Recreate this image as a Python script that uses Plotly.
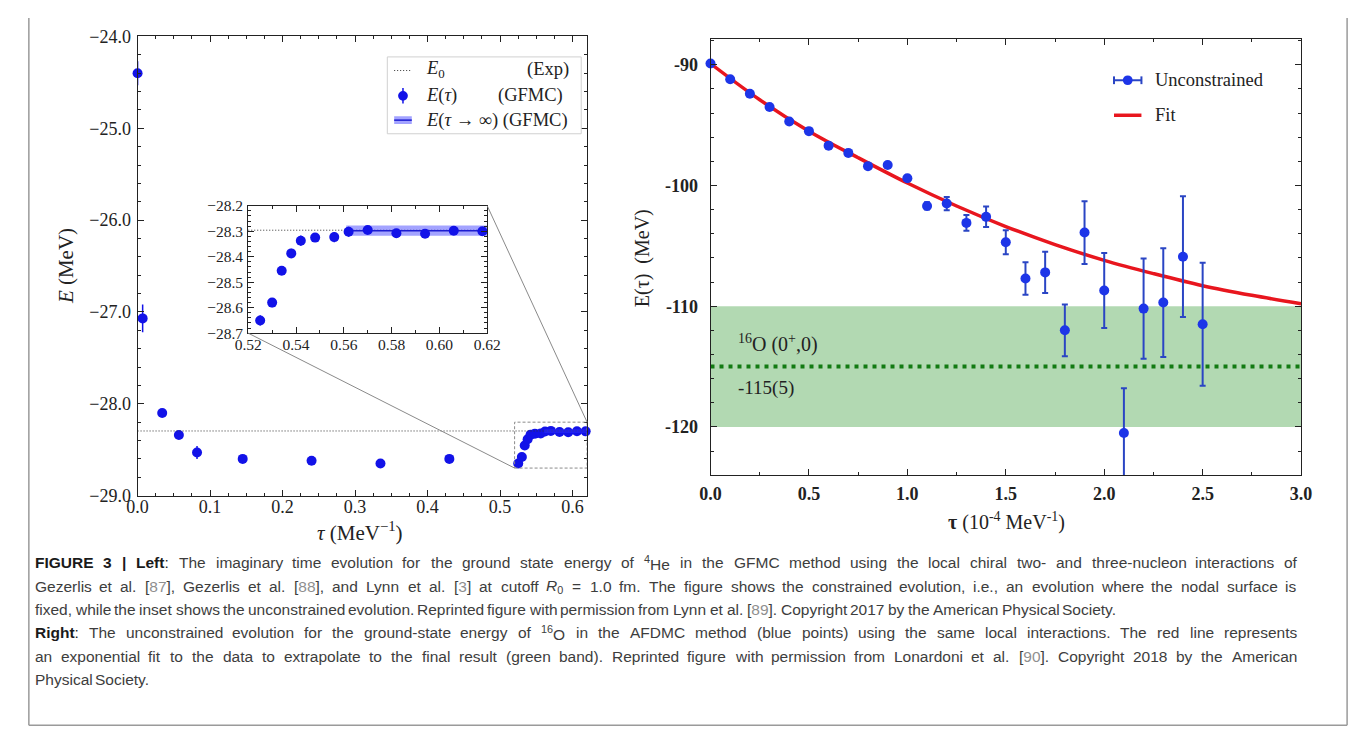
import re
import plotly.graph_objects as go

W, H = 1358, 734

# ---------------- Left panel data: 4He, GFMC ----------------
tau_con = [0.0, 0.007, 0.034, 0.057, 0.082, 0.145, 0.24, 0.335, 0.43, 0.525]
E_con = [-24.40, -27.07, -28.10, -28.34, -28.53, -28.60, -28.62, -28.65, -28.60, -28.65]
err_con = [0.13, 0.15, 0.04, 0.03, 0.07, 0.03, 0.03, 0.03, 0.03, 0.02]

tau_unc = [0.530, 0.534, 0.538, 0.542, 0.548, 0.556, 0.562, 0.570, 0.582, 0.594, 0.606, 0.618]
E_unc = [-28.580, -28.455, -28.387, -28.337, -28.325, -28.323, -28.302, -28.295, -28.308, -28.310, -28.298, -28.300]
err_unc = [0.018, 0.014, 0.018, 0.020, 0.012, 0.020, 0.020, 0.012, 0.012, 0.015, 0.012, 0.012]

E0_exp = -28.296
E_inf = -28.298
E_inf_err = 0.02
tau_inf = [0.561, 0.62]

main_xrange = [0.0, 0.62]
main_yrange = [-29.0, -24.0]
inset_xrange = [0.52, 0.62]
inset_yrange = [-28.7, -28.2]

main_xticks = [0.0, 0.1, 0.2, 0.3, 0.4, 0.5, 0.6]
main_xticklabels = ["0.0", "0.1", "0.2", "0.3", "0.4", "0.5", "0.6"]
main_yticks = [-29, -28, -27, -26, -25, -24]
main_yticklabels = ["\u221229.0", "\u221228.0", "\u221227.0", "\u221226.0", "\u221225.0", "\u221224.0"]
inset_xticks = [0.52, 0.54, 0.56, 0.58, 0.60, 0.62]
inset_xticklabels = ["0.52", "0.54", "0.56", "0.58", "0.60", "0.62"]
inset_yticks = [-28.7, -28.6, -28.5, -28.4, -28.3, -28.2]
inset_yticklabels = ["\u221228.7", "\u221228.6", "\u221228.5", "\u221228.4", "\u221228.3", "\u221228.2"]

# ---------------- Right panel data: 16O, AFDMC ----------------
tau_afdmc = [0.0, 0.1, 0.2, 0.3, 0.4, 0.5, 0.6, 0.7, 0.8, 0.9, 1.0, 1.1, 1.2,
             1.3, 1.4, 1.5, 1.6, 1.7, 1.8, 1.9, 2.0, 2.1, 2.2, 2.3, 2.4, 2.5]
E_afdmc = [-89.9, -91.2, -92.4, -93.5, -94.7, -95.5, -96.7, -97.3, -98.4, -98.3, -99.4,
           -101.7, -101.5, -103.1, -102.6, -104.7, -107.7, -107.2, -112.0, -103.9,
           -108.7, -120.5, -110.2, -109.7, -105.9, -111.5]
err_afdmc = [0.1, 0.1, 0.1, 0.1, 0.1, 0.1, 0.1, 0.1, 0.15, 0.15, 0.2, 0.3, 0.55,
             0.65, 0.85, 1.0, 1.35, 1.7, 2.15, 2.6, 3.1, 3.7, 4.15, 4.5, 5.0, 5.1]

tau_fit = [0.0, 0.25, 0.5, 0.75, 1.0, 1.25, 1.5, 1.75, 2.0, 2.25, 2.5, 2.75, 3.0]
E_fit = [-89.9, -92.9, -95.5, -97.7, -99.8, -101.7, -103.4, -104.9, -106.2, -107.3,
         -108.3, -109.1, -109.8]

E_final = -115.0
E_band = [-120.0, -110.0]

right_xrange = [0.0, 3.0]
right_yrange = [-124.0, -87.9]
right_xticks = [0.0, 0.5, 1.0, 1.5, 2.0, 2.5, 3.0]
right_xticklabels = ["0.0", "0.5", "1.0", "1.5", "2.0", "2.5", "3.0"]
right_yticks = [-120, -110, -100, -90]
right_yticklabels = ["-120", "-110", "-100", "-90"]

# ---------------- geometry (pixels) ----------------
def X(px):
    return px / W


def Y(py):
    return 1 - py / H


LB = dict(x0=118, x1=577, y0=19, y1=491)     # left main axes
IB = dict(x0=231, x1=475, y0=193, y1=324)    # inset axes
RB = dict(x0=703, x1=1306, y0=22, y1=470)    # right axes


def dom_x(b):
    return [X(b["x0"]), X(b["x1"])]


def dom_y(b):
    return [Y(b["y1"]), Y(b["y0"])]


def frange(a, b, step):
    out, v = [], a
    while v <= b + 1e-9:
        out.append(round(v, 6))
        v += step
    return out


INK = "#222222"
SERIF = "Liberation Serif"


def axis(domain, rng, tickvals, ticktext, minor_vals, size, bold=False, anchor=None, standoff=0):
    d = dict(domain=domain, range=rng, showline=True, linecolor=INK, linewidth=1,
             mirror="allticks", ticks="inside", ticklen=6, tickwidth=1, tickcolor=INK,
             showgrid=False, zeroline=False, tickmode="array", tickvals=tickvals,
             ticktext=ticktext, ticklabelstandoff=standoff,
             tickfont=dict(family=SERIF, size=size, color=INK, weight="bold" if bold else "normal"),
             minor=dict(tickmode="array", tickvals=minor_vals, ticks="inside", ticklen=3,
                        tickwidth=1, tickcolor=INK, showgrid=False),
             fixedrange=True)
    if anchor:
        d["anchor"] = anchor
    return d


fig = go.Figure()

BLUE_L = "#1212e8"
BAND_FILL = "rgba(50,50,255,0.45)"
BAND_LINE = "#1c1cd0"

# ---- left main ----
for xs, ys, es in [(tau_con, E_con, err_con), (tau_unc, E_unc, err_unc)]:
    fig.add_trace(go.Scatter(x=xs, y=ys, mode="markers", xaxis="x", yaxis="y",
                             marker=dict(size=10, color=BLUE_L),
                             error_y=dict(type="data", array=es, color=BLUE_L, thickness=1.5, width=0),
                             cliponaxis=False, showlegend=False, hoverinfo="skip"))
fig.add_trace(go.Scatter(x=main_xrange, y=[E0_exp, E0_exp], mode="lines", xaxis="x", yaxis="y",
                         line=dict(color="#333333", width=1, dash="1px,2px"),
                         showlegend=False, hoverinfo="skip"))
fig.add_trace(go.Scatter(x=[tau_inf[0], tau_inf[1], tau_inf[1], tau_inf[0], tau_inf[0]],
                         y=[E_inf + E_inf_err, E_inf + E_inf_err, E_inf - E_inf_err,
                            E_inf - E_inf_err, E_inf + E_inf_err],
                         mode="lines", fill="toself", fillcolor=BAND_FILL, line=dict(width=0),
                         xaxis="x", yaxis="y", showlegend=False, hoverinfo="skip"))

# ---- inset ----
fig.add_trace(go.Scatter(x=inset_xrange, y=[E0_exp, E0_exp], mode="lines", xaxis="x2", yaxis="y2",
                         line=dict(color="#333333", width=1, dash="1px,2px"),
                         showlegend=False, hoverinfo="skip"))
fig.add_trace(go.Scatter(x=[tau_inf[0], tau_inf[1], tau_inf[1], tau_inf[0], tau_inf[0]],
                         y=[E_inf + E_inf_err, E_inf + E_inf_err, E_inf - E_inf_err,
                            E_inf - E_inf_err, E_inf + E_inf_err],
                         mode="lines", fill="toself", fillcolor=BAND_FILL, line=dict(width=0),
                         xaxis="x2", yaxis="y2", showlegend=False, hoverinfo="skip"))
fig.add_trace(go.Scatter(x=tau_inf, y=[E_inf, E_inf], mode="lines", xaxis="x2", yaxis="y2",
                         line=dict(color=BAND_LINE, width=1.5), showlegend=False, hoverinfo="skip"))
for xs, ys, es in [(tau_con, E_con, err_con), (tau_unc, E_unc, err_unc)]:
    fig.add_trace(go.Scatter(x=xs, y=ys, mode="markers", xaxis="x2", yaxis="y2",
                             marker=dict(size=10, color=BLUE_L),
                             error_y=dict(type="data", array=es, color=BLUE_L, thickness=1.5, width=0),
                             showlegend=False, hoverinfo="skip"))

# ---- right ----
GREEN_D = "#127a12"
RED = "#e8161e"
BLUE_R = "#1d35e8"
BLUE_RE = "#2a45c4"
fig.add_trace(go.Scatter(x=right_xrange, y=[E_final, E_final], mode="lines", xaxis="x3", yaxis="y3",
                         line=dict(color=GREEN_D, width=4, dash="4px,5px"),
                         showlegend=False, hoverinfo="skip"))
fig.add_trace(go.Scatter(x=tau_fit, y=E_fit, mode="lines", xaxis="x3", yaxis="y3",
                         line=dict(color=RED, width=3.5, shape="spline"),
                         showlegend=False, hoverinfo="skip"))
fig.add_trace(go.Scatter(x=tau_afdmc, y=E_afdmc, mode="markers", xaxis="x3", yaxis="y3",
                         marker=dict(size=10, color=BLUE_R),
                         error_y=dict(type="data", array=err_afdmc, color=BLUE_RE, thickness=2, width=3),
                         cliponaxis=False, showlegend=False, hoverinfo="skip"))

shapes = []
shapes.append(dict(type="rect", xref="x3 domain", yref="y3", x0=0, x1=1, y0=E_band[0], y1=E_band[1],
                   fillcolor="rgba(0,128,0,0.3)", line=dict(width=0), layer="below"))
shapes.append(dict(type="rect", xref="x", yref="y", x0=inset_xrange[0], x1=inset_xrange[1],
                   y0=inset_yrange[0], y1=inset_yrange[1], line=dict(color="#8a8a8a", width=1, dash="3px,2px")))


def data_to_px(xv, yv, b, xr, yr):
    px = b["x0"] + (xv - xr[0]) / (xr[1] - xr[0]) * (b["x1"] - b["x0"])
    py = b["y1"] - (yv - yr[0]) / (yr[1] - yr[0]) * (b["y1"] - b["y0"])
    return px, py


for cx, cy in [(inset_xrange[0], inset_yrange[0]), (inset_xrange[1], inset_yrange[1])]:
    ax_, ay_ = data_to_px(cx, cy, IB, inset_xrange, inset_yrange)
    bx_, by_ = data_to_px(cx, cy, LB, main_xrange, main_yrange)
    shapes.append(dict(type="line", xref="paper", yref="paper", x0=X(ax_), y0=Y(ay_), x1=X(bx_), y1=Y(by_),
                       line=dict(color="#8a8a8a", width=1)))

# outer border
BORDER = "#9a9a9a"
shapes.append(dict(type="line", xref="paper", yref="paper", x0=X(7), x1=X(7), y0=Y(0), y1=Y(727),
                   line=dict(color=BORDER, width=1.5)))
shapes.append(dict(type="line", xref="paper", yref="paper", x0=X(1353), x1=X(1353), y0=Y(0), y1=Y(727),
                   line=dict(color=BORDER, width=1.5)))
shapes.append(dict(type="line", xref="paper", yref="paper", x0=X(7), x1=X(1353), y0=Y(727), y1=Y(727),
                   line=dict(color=BORDER, width=1.5)))

# ---- left legend (drawn) ----
shapes.append(dict(type="rect", xref="paper", yref="paper", x0=X(373), x1=X(571), y0=Y(119), y1=Y(40),
                   line=dict(color="#d0d0d0", width=1), fillcolor="rgba(255,255,255,0.85)"))
shapes.append(dict(type="line", xref="paper", yref="paper", x0=X(380), x1=X(398), y0=Y(54), y1=Y(54),
                   line=dict(color="#333333", width=1, dash="1px,2px")))
shapes.append(dict(type="line", xref="paper", yref="paper", x0=X(389), x1=X(389), y0=Y(72), y1=Y(88),
                   line=dict(color=BLUE_L, width=1.5)))
shapes.append(dict(type="circle", xref="paper", yref="paper", x0=X(384), x1=X(394), y0=Y(85), y1=Y(75),
                   fillcolor=BLUE_L, line=dict(width=0)))
shapes.append(dict(type="rect", xref="paper", yref="paper", x0=X(380), x1=X(398), y0=Y(109), y1=Y(101),
                   fillcolor=BAND_FILL, line=dict(width=0)))
shapes.append(dict(type="line", xref="paper", yref="paper", x0=X(380), x1=X(398), y0=Y(105), y1=Y(105),
                   line=dict(color=BAND_LINE, width=1.5)))

# ---- right legend (drawn) ----
shapes.append(dict(type="line", xref="paper", yref="paper", x0=X(1115), x1=X(1143), y0=Y(64), y1=Y(64),
                   line=dict(color=BLUE_RE, width=2)))
for xx in (1115, 1143):
    shapes.append(dict(type="line", xref="paper", yref="paper", x0=X(xx), x1=X(xx), y0=Y(60), y1=Y(68),
                       line=dict(color=BLUE_RE, width=2)))
shapes.append(dict(type="circle", xref="paper", yref="paper", x0=X(1124), x1=X(1134), y0=Y(69), y1=Y(59),
                   fillcolor=BLUE_R, line=dict(width=0)))
shapes.append(dict(type="line", xref="paper", yref="paper", x0=X(1115), x1=X(1143), y0=Y(100), y1=Y(100),
                   line=dict(color=RED, width=3.5)))

annotations = []


def txt(x, y, text, size=16, family=SERIF, color=INK, xanchor="center", yanchor="middle", angle=0):
    annotations.append(dict(x=X(x), y=Y(y), xref="paper", yref="paper", text=text, showarrow=False,
                            xanchor=xanchor, yanchor=yanchor, textangle=angle,
                            font=dict(family=family, size=size, color=color)))


LEG = 18.5
txt(410, 53, "<i>E</i><sub>0</sub>", LEG, xanchor="left")
txt(561, 53, "(Exp)", LEG, xanchor="right")
txt(410, 80, "<i>E</i>(<i>\u03c4</i>)", LEG, xanchor="left")
txt(554, 80, "(GFMC)", LEG, xanchor="right")
txt(410, 105, "<i>E</i>(<i>\u03c4</i> \u2192 \u221e) (GFMC)", LEG, xanchor="left")
# left axis titles
txt(45, 255, "<i>E</i> (MeV)", 21, angle=-90)
txt(345, 528, "<i>\u03c4</i> (MeV<sup>\u22121</sup>)", 21)
# right legend text
txt(1155, 64, "Unconstrained", 18.5, xanchor="left")
txt(1155, 100, "Fit", 18.5, xanchor="left")
# right axis titles
txt(633, 247, "E(\u03c4)  (MeV)", 20, angle=-90)
txt(1005, 518, "<b>\u03c4</b> (10<sup>-4</sup> MeV<sup>-1</sup>)", 20)
# right band labels
annotations.append(dict(x=0.13, y=-113.1, xref="x3", yref="y3", text="<sup>16</sup>O (0<sup>+</sup>,0)",
                        showarrow=False, xanchor="left", yanchor="middle",
                        font=dict(family=SERIF, size=20, color=INK)))
annotations.append(dict(x=0.13, y=-116.8, xref="x3", yref="y3", text="-115(5)",
                        showarrow=False, xanchor="left", yanchor="middle",
                        font=dict(family=SERIF, size=19, color=INK)))

# ---------------- caption (justified, word by word) ----------------
caption_lines = [
    ("<b>FIGURE</b> <b>3</b> <b>|</b> <b>Left</b>: The imaginary time evolution for the ground state energy of "
     "<sup>4</sup>He in the GFMC method using the local chiral two- and three-nucleon interactions of", True),
    ("Gezerlis et al. [{87}], Gezerlis et al. [{88}], and Lynn et al. [{3}] at cutoff <i>R</i><sub>0</sub> = 1.0 fm. "
     "The figure shows the constrained evolution, i.e., an evolution where the nodal surface is", True),
    ("fixed, while the inset shows the unconstrained evolution. Reprinted figure with permission from "
     "Lynn et al. [{89}]. Copyright 2017 by the American Physical Society.", False),
    ("<b>Right</b>: The unconstrained evolution for the ground-state energy of <sup>16</sup>O in the AFDMC "
     "method (blue points) using the same local interactions. The red line represents", True),
    ("an exponential fit to the data to extrapolate to the final result (green band). Reprinted figure with "
     "permission from Lonardoni et al. [{90}]. Copyright 2018 by the American", True),
    ("Physical Society.", False),
]
caption_y = [560, 584, 608, 632, 656, 680]
CAP_X0, CAP_X1 = 12, 1300
CAP_FONT = "Liberation Sans"

REG = {" ": 278, "!": 278, "(": 333, ")": 333, ",": 278, "-": 333, ".": 278, "/": 278, ":": 278,
       ";": 278, "=": 584, "[": 278, "]": 278, "|": 260, "+": 584,
       "A": 667, "B": 667, "C": 722, "D": 722, "E": 667, "F": 611, "G": 778, "H": 722, "I": 278,
       "J": 500, "K": 667, "L": 556, "M": 833, "N": 722, "O": 778, "P": 667, "Q": 778, "R": 722,
       "S": 667, "T": 611, "U": 722, "V": 667, "W": 944, "X": 667, "Y": 667, "Z": 611,
       "a": 556, "b": 556, "c": 500, "d": 556, "e": 556, "f": 278, "g": 556, "h": 556, "i": 222,
       "j": 222, "k": 500, "l": 222, "m": 833, "n": 556, "o": 556, "p": 556, "q": 556, "r": 333,
       "s": 500, "t": 278, "u": 556, "v": 500, "w": 722, "x": 500, "y": 500, "z": 500}
BOLD = {"F": 611, "I": 278, "G": 778, "U": 722, "R": 722, "E": 667, "L": 611, "e": 556, "f": 333,
        "t": 333, "i": 278, "g": 611, "h": 611, "3": 556, "|": 280, ":": 333}


def word_width(word, fs):
    w, bold, small = 0.0, False, False
    for tok in re.split(r"(<[^>]+>)", word):
        if tok.startswith("<"):
            t = tok.lower()
            if t == "<b>":
                bold = True
            elif t == "</b>":
                bold = False
            elif t in ("<sup>", "<sub>"):
                small = True
            elif t in ("</sup>", "</sub>"):
                small = False
            continue
        for ch in tok:
            cw = BOLD.get(ch) if bold and ch in BOLD else REG.get(ch, 556)
            w += cw / 1000.0 * fs * (0.7 if small else 1.0)
    return w


def render_word(w):
    return re.sub(r"\{(\d+)\}", r"<span style='color:#8f8f8f'>\1</span>", w)


CAP_FS = 15.5
for (line, justify), ly in zip(caption_lines, caption_y):
    words = [render_word(w) for w in line.split(" ")]
    widths = [word_width(w, CAP_FS) for w in words]
    space = REG[" "] / 1000.0 * CAP_FS
    if justify and len(words) > 1:
        gap = (CAP_X1 - CAP_X0 - sum(widths)) / (len(words) - 1)
    else:
        gap = space
    xpos = CAP_X0
    for w, wd in zip(words, widths):
        col = "#1a1a1a" if "<b>" in w else "#3d3d3d"
        annotations.append(dict(x=X(xpos), y=Y(ly), xref="paper", yref="paper", text=w, showarrow=False,
                                xanchor="left", yanchor="middle", borderpad=0,
                                font=dict(family=CAP_FONT, size=CAP_FS, color=col)))
        xpos += wd + gap

fig.update_layout(
    width=W, height=H, margin=dict(l=0, r=0, t=0, b=0),
    paper_bgcolor="white", plot_bgcolor="rgba(0,0,0,0)", showlegend=False,
    xaxis=axis(dom_x(LB), main_xrange, main_xticks, main_xticklabels, frange(0, 0.62, 0.025), 18,
               anchor="y", standoff=-5),
    yaxis=axis(dom_y(LB), main_yrange, main_yticks, main_yticklabels, frange(-29, -24, 0.2), 18,
               anchor="x", standoff=2),
    xaxis2=axis(dom_x(IB), inset_xrange, inset_xticks, inset_xticklabels, frange(0.52, 0.62, 0.01), 15.5,
                anchor="y2", standoff=-3),
    yaxis2=axis(dom_y(IB), inset_yrange, inset_yticks, inset_yticklabels, frange(-28.7, -28.2, 0.02), 15.5,
                anchor="x2", standoff=1),
    xaxis3=axis(dom_x(RB), right_xrange, right_xticks, right_xticklabels, frange(0, 3.0, 0.25), 18,
                bold=True, anchor="y3", standoff=2),
    yaxis3=axis(dom_y(RB), right_yrange, right_yticks, right_yticklabels, frange(-124, -88, 2), 18,
                bold=True, anchor="x3", standoff=8),
    shapes=shapes, annotations=annotations,
)

fig.write_html("out.html")
